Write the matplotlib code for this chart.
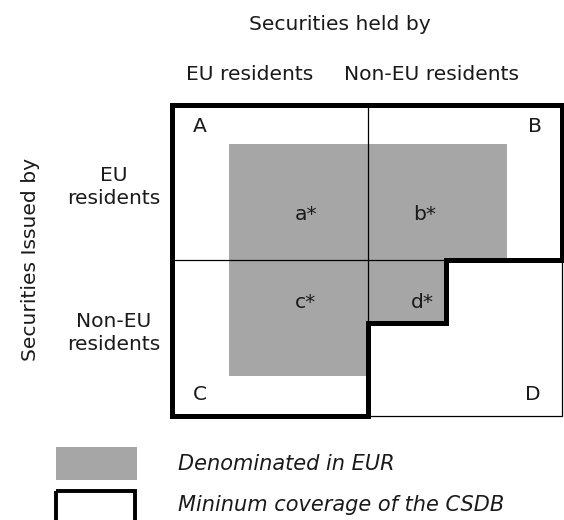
import matplotlib
matplotlib.use('agg')
import matplotlib.pyplot as plt
import matplotlib.patches as mpatch

plt.rcParams['font.family'] = ['DejaVu Sans']

TEXT = '#1a1a1a'
GREY = '#a6a6a6'
THICK = 3.6
THIN = 0.9

# content of the diagram
held_by_title = 'Securities held by'
issued_by_title = 'Securities Issued by'
col_labels = ['EU residents', 'Non-EU residents']
row_labels = ['EU\nresidents', 'Non-EU\nresidents']
corner_labels = ['A', 'B', 'C', 'D']
cell_labels = ['a*', 'b*', 'c*', 'd*']
legend_labels = ['Denominated in EUR', 'Mininum coverage of the CSDB']

# grid edges (pixel space of the picture, y downwards)
grid_x = [172, 368, 562]
grid_y = [105, 260, 416]
# euro-denominated block and the CSDB minimum coverage outline
eur_x = [229, 507]
eur_y = [144, 376]
step_x = 446
step_y = 323


fig = plt.figure(figsize=(5.64, 5.20), dpi=100)
ax = fig.add_axes([0, 0, 1, 1])
ax.set_xlim(0, 564)
ax.set_ylim(520, 0)
ax.axis('off')

# grey area, cut by the coverage staircase
x0, x1 = eur_x
y0, y1 = eur_y
grey = [(x0, y0), (x1, y0), (x1, grid_y[1]), (step_x, grid_y[1]),
        (step_x, step_y), (grid_x[1], step_y), (grid_x[1], y1), (x0, y1)]
ax.add_patch(mpatch.Polygon(grey, closed=True, facecolor=GREY, edgecolor='none', zorder=1))

# thin grid
ax.add_patch(mpatch.Rectangle((grid_x[0], grid_y[0]), grid_x[2] - grid_x[0], grid_y[2] - grid_y[0],
                              facecolor='none', edgecolor='black', lw=THIN, zorder=2))
ax.plot([grid_x[1], grid_x[1]], [grid_y[0], grid_y[2]], color='black', lw=THIN, zorder=2)
ax.plot([grid_x[0], grid_x[2]], [grid_y[1], grid_y[1]], color='black', lw=THIN, zorder=2)

# thick outline
outline = [(grid_x[0], grid_y[0]), (grid_x[2], grid_y[0]), (grid_x[2], grid_y[1]),
           (step_x, grid_y[1]), (step_x, step_y), (grid_x[1], step_y),
           (grid_x[1], grid_y[2]), (grid_x[0], grid_y[2])]
ax.add_patch(mpatch.Polygon(outline, closed=True, facecolor='none', edgecolor='black',
                            lw=THICK, joinstyle='miter', zorder=3))

fs = 14.6
ax.text(340, 24, held_by_title, ha='center', va='center', fontsize=fs, color=TEXT)
ax.text(250, 75, col_labels[0], ha='center', va='center', fontsize=fs, color=TEXT)
ax.text(431, 75, col_labels[1], ha='center', va='center', fontsize=fs, color=TEXT)
ax.text(31, 259, issued_by_title, ha='center', va='center', rotation=90, fontsize=fs, color=TEXT)
ax.text(114, 187, row_labels[0], ha='center', va='center', fontsize=fs, color=TEXT,
        linespacing=1.25)
ax.text(114, 333, row_labels[1], ha='center', va='center', fontsize=fs, color=TEXT,
        linespacing=1.25)

corner_pos = [(200, 126), (535, 126), (200, 394), (533, 394)]
for lab, (x, y) in zip(corner_labels, corner_pos):
    ax.text(x, y, lab, ha='center', va='center', fontsize=fs, color=TEXT, zorder=4)

cell_pos = [(306, 214), (425, 214), (305, 302), (422, 302)]
for lab, (x, y) in zip(cell_labels, cell_pos):
    ax.text(x, y, lab, ha='center', va='center', fontsize=fs, color=TEXT, zorder=4)

# legend
ax.add_patch(mpatch.Rectangle((56, 447), 81, 33, facecolor=GREY, edgecolor='none'))
ax.add_patch(mpatch.Rectangle((56, 491), 79, 40, facecolor='none', edgecolor='black',
                              lw=THICK - 0.8, clip_on=True))
ax.text(178, 464, legend_labels[0], ha='left', va='center', fontsize=15, style='italic', color=TEXT)
ax.text(178, 505, legend_labels[1], ha='left', va='center', fontsize=15, style='italic', color=TEXT)

fig.savefig('out.png', dpi=100, facecolor='white')
